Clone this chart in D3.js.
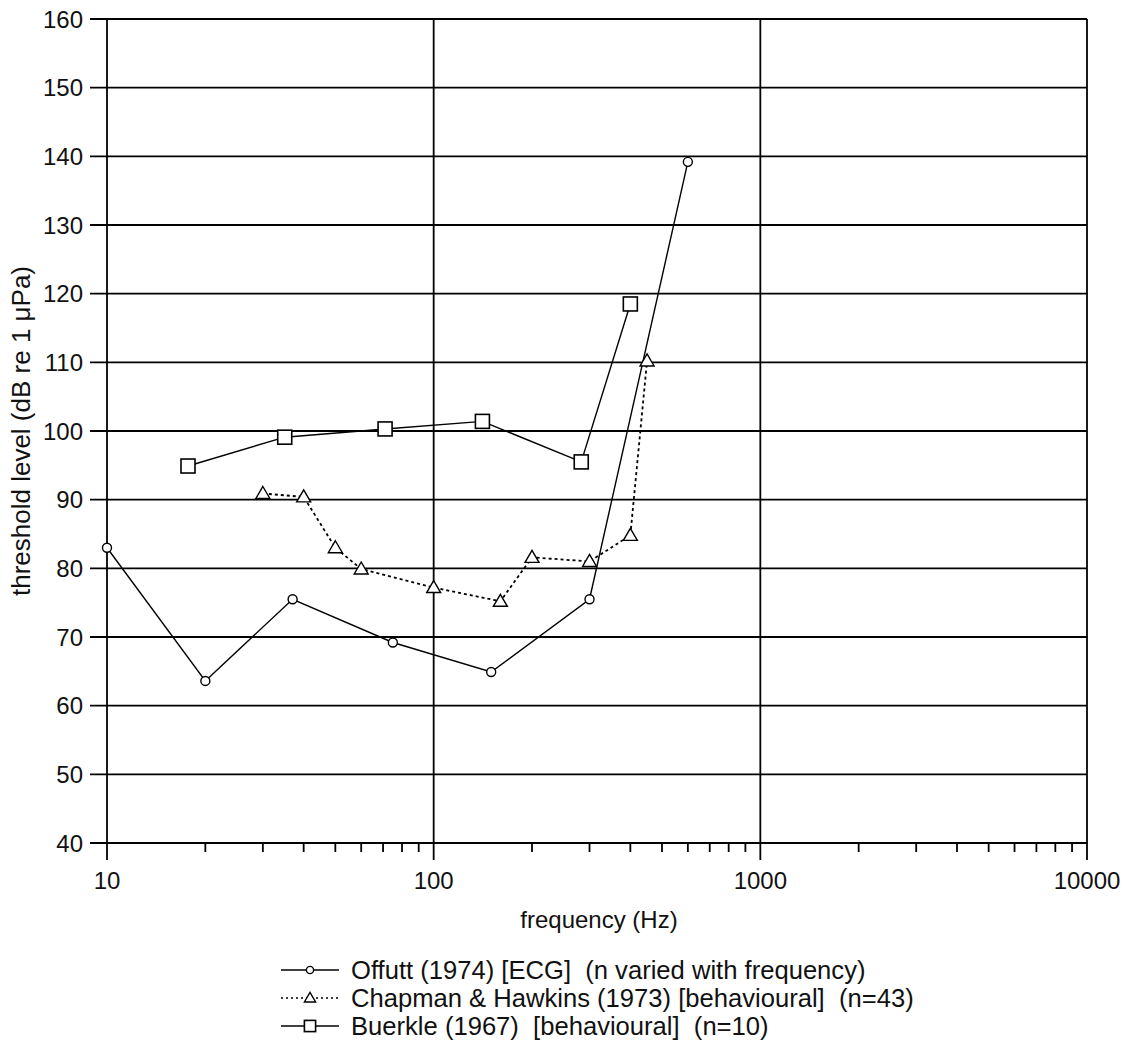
<!DOCTYPE html>
<html><head><meta charset="utf-8">
<script src="https://cdn.jsdelivr.net/npm/d3@7"></script>
<style>body{margin:0;background:#fff}text{font-family:"Liberation Sans",Arial,sans-serif;fill:#111}</style>
</head><body><svg id="c" width="1134" height="1055"></svg>
<script>
const offuttFreq = [10, 20, 37, 75, 150, 300, 600];
const offuttDb   = [83, 63.6, 75.5, 69.2, 64.9, 75.5, 139.2];
const chapmanFreq = [30, 40, 50, 60, 100, 160, 200, 300, 400, 450];
const chapmanDb   = [90.9, 90.4, 83, 79.9, 77.2, 75.2, 81.6, 81, 84.8, 110.2];
const buerkleFreq = [17.7, 35, 71, 141, 283, 400];
const buerkleDb   = [94.9, 99.1, 100.3, 101.4, 95.5, 118.5];
const xTickLabels = [10, 100, 1000, 10000];
const yTickLabels = [40, 50, 60, 70, 80, 90, 100, 110, 120, 130, 140, 150, 160];
const legendLabels = ["Offutt (1974) [ECG]  (n varied with frequency)",
  "Chapman & Hawkins (1973) [behavioural]  (n=43)",
  "Buerkle (1967)  [behavioural]  (n=10)"];

const svg = d3.select("#c");
const L=107, R=1087, T=19, B=843;
const x = d3.scaleLog().domain([10,10000]).range([L,R]);
const y = d3.scaleLinear().domain([40,160]).range([B,T]);

svg.append("g").selectAll("line").data(yTickLabels).join("line")
  .attr("x1",L-17).attr("x2",R).attr("y1",d=>y(d)).attr("y2",d=>y(d))
  .attr("stroke","#000").attr("stroke-width",1.8);
svg.append("g").selectAll("line").data(xTickLabels).join("line")
  .attr("x1",d=>x(d)).attr("x2",d=>x(d)).attr("y1",T).attr("y2",B+17)
  .attr("stroke","#000").attr("stroke-width",1.8);
const minor=[];
for (let dec=10; dec<10000; dec*=10) for (let k=2;k<=9;k++) minor.push(dec*k);
svg.append("g").selectAll("line").data(minor).join("line")
  .attr("x1",d=>x(d)).attr("x2",d=>x(d)).attr("y1",B).attr("y2",B+9)
  .attr("stroke","#000").attr("stroke-width",1.8);

svg.append("g").selectAll("text").data(yTickLabels).join("text")
  .attr("x",83).attr("y",d=>y(d)).attr("dy","0.36em").attr("text-anchor","end")
  .attr("font-size",24).text(d=>d);
svg.append("g").selectAll("text").data(xTickLabels).join("text")
  .attr("x",d=>x(d)).attr("y",889).attr("text-anchor","middle")
  .attr("font-size",24).text(d=>d);

svg.append("text").attr("x",599).attr("y",928).attr("text-anchor","middle")
  .attr("font-size",24).text("frequency (Hz)");
svg.append("text").attr("transform","translate(30,431) rotate(-90)").attr("text-anchor","middle")
  .attr("font-size",26).text("threshold level (dB re 1 μPa)");

const series = [
  {f:offuttFreq, v:offuttDb, dash:null, m:"circle"},
  {f:chapmanFreq, v:chapmanDb, dash:"3,3", m:"triangle"},
  {f:buerkleFreq, v:buerkleDb, dash:null, m:"square"}
];
function marker(g, type, cx, cy, s){
  s = s || 1;
  if(type==="circle") g.append("circle").attr("cx",cx).attr("cy",cy).attr("r",4.5*s)
     .attr("fill","#fff").attr("stroke","#000").attr("stroke-width",1.4);
  else if(type==="triangle") g.append("path")
     .attr("d",`M${cx},${cy-7*s}L${cx+7*s},${cy+5*s}L${cx-7*s},${cy+5*s}Z`)
     .attr("fill","#fff").attr("stroke","#000").attr("stroke-width",1.4);
  else g.append("rect").attr("x",cx-7*s).attr("y",cy-7*s).attr("width",14*s).attr("height",14*s)
     .attr("fill","#fff").attr("stroke","#000").attr("stroke-width",1.6);
}
const line = d3.line().x(d=>x(d[0])).y(d=>y(d[1]));
series.forEach(s=>{
  const pts = s.f.map((f,i)=>[f,s.v[i]]);
  svg.append("path").attr("d",line(pts)).attr("fill","none").attr("stroke","#000")
    .attr("stroke-width",s.dash?1.8:1.4).attr("stroke-dasharray",s.dash);
});
series.forEach(s=>{
  const g=svg.append("g");
  s.f.forEach((f,i)=>marker(g,s.m,x(f),y(s.v[i])));
});

const ly=[970,998,1026];
series.forEach((s,i)=>{
  const g=svg.append("g");
  g.append("line").attr("x1",281).attr("x2",339).attr("y1",ly[i]).attr("y2",ly[i])
    .attr("stroke","#000").attr("stroke-width",s.dash?1.6:1.4).attr("stroke-dasharray",s.dash?"2,3":null);
  marker(g,s.m,310,ly[i],0.8);
  g.append("text").attr("x",351).attr("y",ly[i]).attr("dy","0.35em").attr("font-size",25.6)
    .attr("xml:space","preserve").style("white-space","pre").text(legendLabels[i]);
});
</script></body></html>
